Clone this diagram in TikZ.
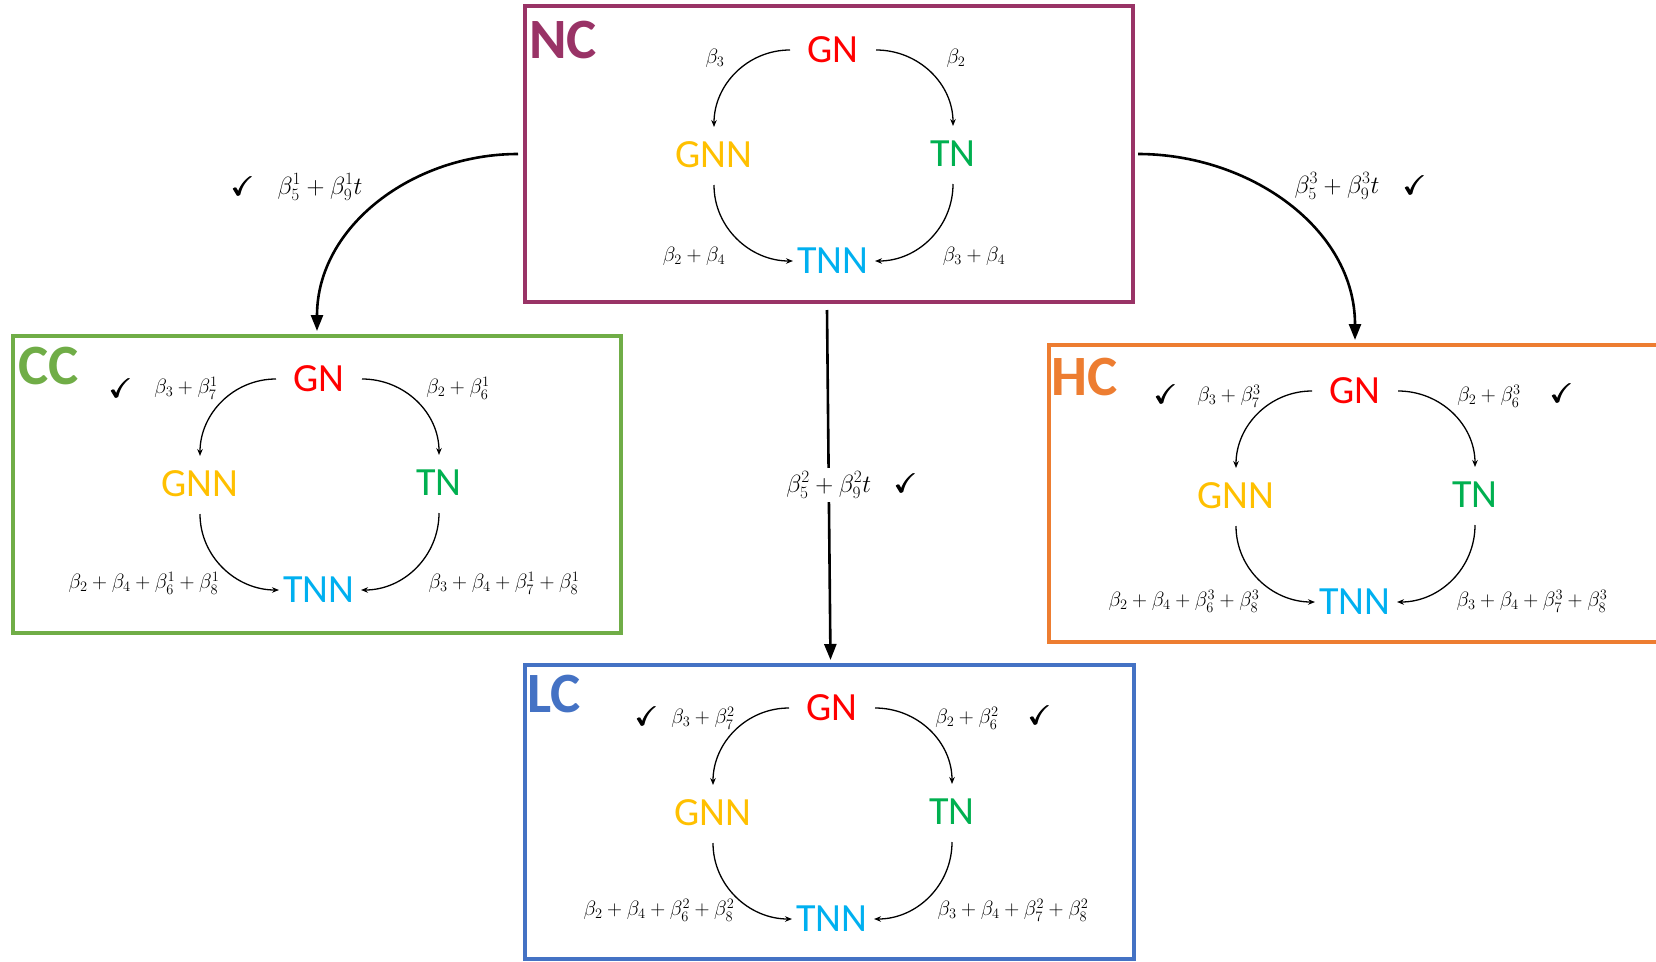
\documentclass[tikz,border=0pt]{standalone}
\usepackage{amsmath,amssymb}
\usepackage{fontspec}
\newfontfamily\calibri{Carlito}
\usetikzlibrary{arrows.meta}

\definecolor{ncpurple}{RGB}{153,51,102}
\definecolor{ccgreen}{RGB}{112,173,71}
\definecolor{hcorange}{RGB}{237,125,49}
\definecolor{lcblue}{RGB}{68,114,196}
\definecolor{gncol}{RGB}{255,0,0}
\definecolor{gnncol}{RGB}{255,192,0}
\definecolor{tncol}{RGB}{0,176,80}
\definecolor{tnncol}{RGB}{0,176,240}

\newcommand\tickmark{$\pmb{\checkmark}$}

\tikzset{
  frame/.style={draw=#1, line width=4pt, inner sep=0pt},
  state/.style={font=\calibri\fontsize{40}{48}\selectfont, inner sep=0pt},
  title/.style={font=\calibri\bfseries\fontsize{57}{64}\selectfont, inner sep=0pt, text=#1},
  rate/.style={font=\fontsize{21.5}{25}\selectfont, inner sep=0pt},
  trate/.style={font=\fontsize{25}{30}\selectfont, inner sep=1pt},
  tick/.style={font=\fontsize{27}{30}\selectfont, inner sep=0pt},
  flow/.style={-{Stealth[length=7pt,width=5.5pt]}, line width=1.3pt},
  move/.style={-{Triangle[length=16pt,width=12pt]}, line width=2.6pt},
}

% the four states of one scenario and the transitions between them
\newcommand\statecycle[3]{%
  \begin{scope}[shift={(#2,#3)}]
    \node[state,text=gncol]  (#1gn)  at (0,0)      {GN};
    \node[state,text=gnncol] (#1gnn) at (-119,105) {GNN};
    \node[state,text=tncol]  (#1tn)  at (120,104)  {TN};
    \node[state,text=tnncol] (#1tnn) at (0,211)    {TNN};
  \end{scope}
  \draw[flow] ([xshift=-43pt]#1gn.center) to[out=180,in=90] ([yshift=28pt]#1gnn.center);
  \draw[flow] ([xshift=43pt]#1gn.center)  to[out=0,in=90]   ([yshift=28pt]#1tn.center);
  \draw[flow] ([yshift=-30pt]#1gnn.center) to[out=-90,in=180] ([xshift=-40pt]#1tnn.center);
  \draw[flow] ([yshift=-30pt]#1tn.center)  to[out=-90,in=0]   ([xshift=42pt]#1tnn.center);
}

\begin{document}
\begin{tikzpicture}[x=1pt,y=-1pt]
  \useasboundingbox[fill=white] (0,0) rectangle (1656,961);

  % scenario frames
  \node[frame=ncpurple, minimum width=608pt, minimum height=296pt] (nc) at (829,154) {};
  \node[frame=ccgreen,  minimum width=608pt, minimum height=297pt] (cc) at (317,484.5) {};
  \node[frame=hcorange, minimum width=612pt, minimum height=297pt] (hc) at (1355,493.5) {};
  \node[frame=lcblue,   minimum width=609pt, minimum height=294pt] (lc) at (829.5,812) {};

  \node[title=ncpurple] (ncname) at (563,40)  {NC};
  \node[title=ccgreen]  (ccname) at (49,366)  {CC};
  \node[title=hcorange] (hcname) at (1085,377) {HC};
  \node[title=lcblue]   (lcname) at (554,694) {LC};

  % NC
  \statecycle{nc}{833}{50}
  \node[rate] (nc1) at (715,58)  {$\beta_3$};
  \node[rate] (nc2) at (956,58)  {$\beta_2$};
  \node[rate] (nc3) at (694,256) {$\beta_2+\beta_4$};
  \node[rate] (nc4) at (974,256) {$\beta_3+\beta_4$};

  % CC
  \statecycle{cc}{319}{379}
  \node[tick] (cct1) at (121,388) {\tickmark};
  \node[rate] (cc1) at (186,388) {$\beta_3+\beta_7^1$};
  \node[rate] (cc2) at (458,388) {$\beta_2+\beta_6^1$};
  \node[rate] (cc3) at (144,583) {$\beta_2+\beta_4+\beta_6^1+\beta_8^1$};
  \node[rate] (cc4) at (504,583) {$\beta_3+\beta_4+\beta_7^1+\beta_8^1$};

  % HC
  \statecycle{hc}{1355}{391}
  \node[tick] (hct1) at (1166,394) {\tickmark};
  \node[rate] (hc1) at (1229,396) {$\beta_3+\beta_7^3$};
  \node[rate] (hc2) at (1489,396) {$\beta_2+\beta_6^3$};
  \node[tick] (hct2) at (1562,393) {\tickmark};
  \node[rate] (hc3) at (1184,601) {$\beta_2+\beta_4+\beta_6^3+\beta_8^3$};
  \node[rate] (hc4) at (1532,601) {$\beta_3+\beta_4+\beta_7^3+\beta_8^3$};

  % LC
  \statecycle{lc}{832}{708}
  \node[tick] (lct1) at (647,716) {\tickmark};
  \node[rate] (lc1) at (703,718) {$\beta_3+\beta_7^2$};
  \node[rate] (lc2) at (967,718) {$\beta_2+\beta_6^2$};
  \node[tick] (lct2) at (1040,715) {\tickmark};
  \node[rate] (lc3) at (659,910) {$\beta_2+\beta_4+\beta_6^2+\beta_8^2$};
  \node[rate] (lc4) at (1013,910) {$\beta_3+\beta_4+\beta_7^2+\beta_8^2$};

  % transitions between scenarios
  \draw[move] ([xshift=-5pt]nc.west) to[out=180,in=90] ([yshift=3pt]cc.north);
  \draw[move] ([xshift=3pt]nc.east) to[out=0,in=90] ([yshift=3pt]hc.north);
  \draw[move] ([xshift=-2pt,yshift=-6pt]nc.south) -- ([xshift=1pt,yshift=3pt]lc.north)
    node[trate, pos=0.5, fill=white, inner sep=4pt] (mid) {$\beta_5^2+\beta_9^2 t$};

  \node[tick]  (tl)  at (243,186)  {\tickmark};
  \node[trate] (ttl) at (320,187)  {$\beta_5^1+\beta_9^1 t$};
  \node[trate] (ttr) at (1337,186) {$\beta_5^3+\beta_9^3 t$};
  \node[tick]  (tr)  at (1415,185) {\tickmark};
  \node[tick]  (tm)  at (906,483)  {\tickmark};
\end{tikzpicture}
\end{document}
